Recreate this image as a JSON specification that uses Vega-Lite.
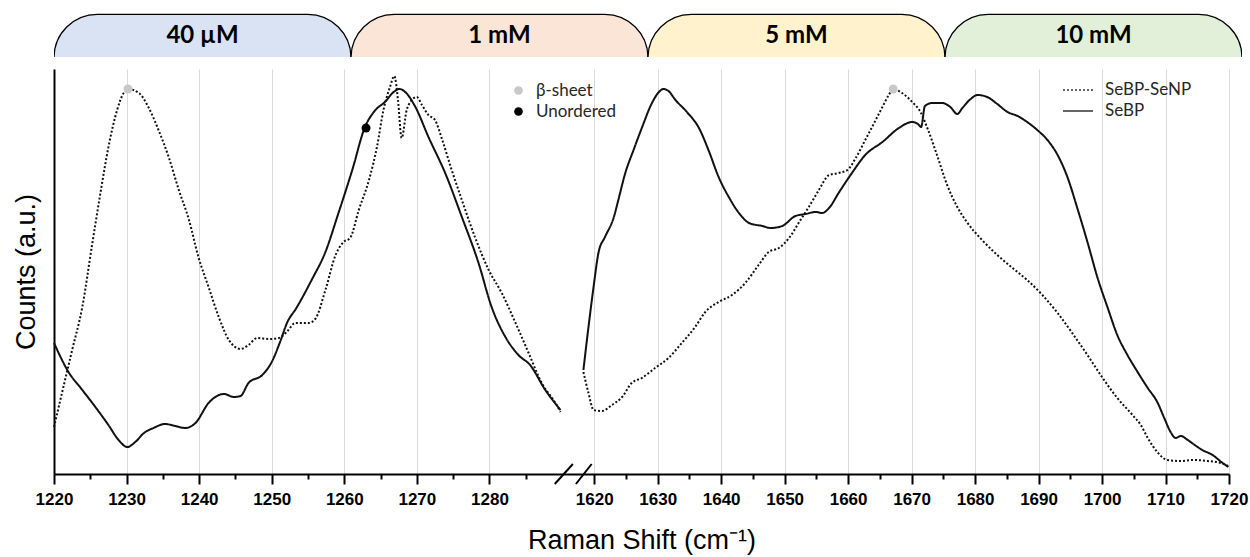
{
  "$schema": "https://vega.github.io/schema/vega-lite/v6.json",
  "padding": {"left": 12, "top": 13, "right": 5, "bottom": 2},
  "background": "#ffffff",
  "config": {"view": {"stroke": null}},
  "spacing": 12,
  "resolve": {"scale": {"color": "independent", "strokeDash": "independent"}, "legend": {"color": "independent", "strokeDash": "independent"}},
  "datasets": {
    "tabs": [
      {"tab": "40 µM", "i0": 0, "i1": 1, "mid": 0.5},
      {"tab": "1 mM", "i0": 1, "i1": 2, "mid": 1.5},
      {"tab": "5 mM", "i0": 2, "i1": 3, "mid": 2.5},
      {"tab": "10 mM", "i0": 3, "i1": 4, "mid": 3.5}
    ],
    "spectra": [
      {"series": "SeBP", "seg": "SeBP-L", "u": 1220.0, "c": 131},
      {"series": "SeBP", "seg": "SeBP-L", "u": 1222.0, "c": 102},
      {"series": "SeBP", "seg": "SeBP-L", "u": 1223.9, "c": 84},
      {"series": "SeBP", "seg": "SeBP-L", "u": 1225.7, "c": 67},
      {"series": "SeBP", "seg": "SeBP-L", "u": 1227.5, "c": 49},
      {"series": "SeBP", "seg": "SeBP-L", "u": 1228.9, "c": 34},
      {"series": "SeBP", "seg": "SeBP-L", "u": 1230.1, "c": 27},
      {"series": "SeBP", "seg": "SeBP-L", "u": 1231.2, "c": 32},
      {"series": "SeBP", "seg": "SeBP-L", "u": 1232.4, "c": 41},
      {"series": "SeBP", "seg": "SeBP-L", "u": 1233.7, "c": 46},
      {"series": "SeBP", "seg": "SeBP-L", "u": 1235.3, "c": 50},
      {"series": "SeBP", "seg": "SeBP-L", "u": 1236.7, "c": 48},
      {"series": "SeBP", "seg": "SeBP-L", "u": 1238.1, "c": 46},
      {"series": "SeBP", "seg": "SeBP-L", "u": 1239.5, "c": 51},
      {"series": "SeBP", "seg": "SeBP-L", "u": 1241.3, "c": 71},
      {"series": "SeBP", "seg": "SeBP-L", "u": 1243.4, "c": 80},
      {"series": "SeBP", "seg": "SeBP-L", "u": 1244.8, "c": 77},
      {"series": "SeBP", "seg": "SeBP-L", "u": 1245.7, "c": 78},
      {"series": "SeBP", "seg": "SeBP-L", "u": 1246.8, "c": 91},
      {"series": "SeBP", "seg": "SeBP-L", "u": 1248.7, "c": 99},
      {"series": "SeBP", "seg": "SeBP-L", "u": 1250.0, "c": 112},
      {"series": "SeBP", "seg": "SeBP-L", "u": 1251.2, "c": 133},
      {"series": "SeBP", "seg": "SeBP-L", "u": 1252.1, "c": 151},
      {"series": "SeBP", "seg": "SeBP-L", "u": 1253.4, "c": 166},
      {"series": "SeBP", "seg": "SeBP-L", "u": 1255.5, "c": 194},
      {"series": "SeBP", "seg": "SeBP-L", "u": 1257.4, "c": 222},
      {"series": "SeBP", "seg": "SeBP-L", "u": 1259.2, "c": 261},
      {"series": "SeBP", "seg": "SeBP-L", "u": 1261.1, "c": 304},
      {"series": "SeBP", "seg": "SeBP-L", "u": 1262.8, "c": 346},
      {"series": "SeBP", "seg": "SeBP-L", "u": 1264.3, "c": 364},
      {"series": "SeBP", "seg": "SeBP-L", "u": 1265.6, "c": 372},
      {"series": "SeBP", "seg": "SeBP-L", "u": 1266.8, "c": 382},
      {"series": "SeBP", "seg": "SeBP-L", "u": 1267.6, "c": 385},
      {"series": "SeBP", "seg": "SeBP-L", "u": 1268.4, "c": 382},
      {"series": "SeBP", "seg": "SeBP-L", "u": 1269.8, "c": 367},
      {"series": "SeBP", "seg": "SeBP-L", "u": 1271.6, "c": 337},
      {"series": "SeBP", "seg": "SeBP-L", "u": 1273.9, "c": 301},
      {"series": "SeBP", "seg": "SeBP-L", "u": 1276.2, "c": 257},
      {"series": "SeBP", "seg": "SeBP-L", "u": 1278.5, "c": 211},
      {"series": "SeBP", "seg": "SeBP-L", "u": 1280.3, "c": 167},
      {"series": "SeBP", "seg": "SeBP-L", "u": 1282.2, "c": 137},
      {"series": "SeBP", "seg": "SeBP-L", "u": 1284.0, "c": 119},
      {"series": "SeBP", "seg": "SeBP-L", "u": 1285.6, "c": 109},
      {"series": "SeBP", "seg": "SeBP-L", "u": 1287.7, "c": 84},
      {"series": "SeBP", "seg": "SeBP-L", "u": 1289.8, "c": 64},
      {"series": "SeBP-SeNP", "seg": "NP-L", "u": 1220.0, "c": 47},
      {"series": "SeBP-SeNP", "seg": "NP-L", "u": 1221.1, "c": 81},
      {"series": "SeBP-SeNP", "seg": "NP-L", "u": 1222.5, "c": 124},
      {"series": "SeBP-SeNP", "seg": "NP-L", "u": 1223.9, "c": 167},
      {"series": "SeBP-SeNP", "seg": "NP-L", "u": 1225.2, "c": 227},
      {"series": "SeBP-SeNP", "seg": "NP-L", "u": 1226.4, "c": 281},
      {"series": "SeBP-SeNP", "seg": "NP-L", "u": 1227.5, "c": 327},
      {"series": "SeBP-SeNP", "seg": "NP-L", "u": 1228.7, "c": 364},
      {"series": "SeBP-SeNP", "seg": "NP-L", "u": 1229.6, "c": 381},
      {"series": "SeBP-SeNP", "seg": "NP-L", "u": 1230.2, "c": 385},
      {"series": "SeBP-SeNP", "seg": "NP-L", "u": 1231.7, "c": 381},
      {"series": "SeBP-SeNP", "seg": "NP-L", "u": 1233.0, "c": 367},
      {"series": "SeBP-SeNP", "seg": "NP-L", "u": 1234.4, "c": 344},
      {"series": "SeBP-SeNP", "seg": "NP-L", "u": 1235.8, "c": 317},
      {"series": "SeBP-SeNP", "seg": "NP-L", "u": 1237.2, "c": 284},
      {"series": "SeBP-SeNP", "seg": "NP-L", "u": 1238.6, "c": 254},
      {"series": "SeBP-SeNP", "seg": "NP-L", "u": 1239.9, "c": 217},
      {"series": "SeBP-SeNP", "seg": "NP-L", "u": 1241.3, "c": 187},
      {"series": "SeBP-SeNP", "seg": "NP-L", "u": 1242.7, "c": 157},
      {"series": "SeBP-SeNP", "seg": "NP-L", "u": 1244.1, "c": 134},
      {"series": "SeBP-SeNP", "seg": "NP-L", "u": 1245.7, "c": 125},
      {"series": "SeBP-SeNP", "seg": "NP-L", "u": 1246.8, "c": 129},
      {"series": "SeBP-SeNP", "seg": "NP-L", "u": 1248.0, "c": 136},
      {"series": "SeBP-SeNP", "seg": "NP-L", "u": 1249.6, "c": 135},
      {"series": "SeBP-SeNP", "seg": "NP-L", "u": 1251.0, "c": 136},
      {"series": "SeBP-SeNP", "seg": "NP-L", "u": 1252.3, "c": 144},
      {"series": "SeBP-SeNP", "seg": "NP-L", "u": 1253.2, "c": 151},
      {"series": "SeBP-SeNP", "seg": "NP-L", "u": 1255.1, "c": 151},
      {"series": "SeBP-SeNP", "seg": "NP-L", "u": 1256.0, "c": 155},
      {"series": "SeBP-SeNP", "seg": "NP-L", "u": 1257.4, "c": 184},
      {"series": "SeBP-SeNP", "seg": "NP-L", "u": 1258.8, "c": 219},
      {"series": "SeBP-SeNP", "seg": "NP-L", "u": 1259.9, "c": 232},
      {"series": "SeBP-SeNP", "seg": "NP-L", "u": 1260.8, "c": 236},
      {"series": "SeBP-SeNP", "seg": "NP-L", "u": 1262.0, "c": 264},
      {"series": "SeBP-SeNP", "seg": "NP-L", "u": 1263.4, "c": 294},
      {"series": "SeBP-SeNP", "seg": "NP-L", "u": 1264.5, "c": 327},
      {"series": "SeBP-SeNP", "seg": "NP-L", "u": 1265.4, "c": 364},
      {"series": "SeBP-SeNP", "seg": "NP-L", "u": 1266.3, "c": 387},
      {"series": "SeBP-SeNP", "seg": "NP-L", "u": 1266.9, "c": 398},
      {"series": "SeBP-SeNP", "seg": "NP-L", "u": 1267.4, "c": 374},
      {"series": "SeBP-SeNP", "seg": "NP-L", "u": 1267.9, "c": 336},
      {"series": "SeBP-SeNP", "seg": "NP-L", "u": 1268.6, "c": 364},
      {"series": "SeBP-SeNP", "seg": "NP-L", "u": 1269.1, "c": 372},
      {"series": "SeBP-SeNP", "seg": "NP-L", "u": 1270.0, "c": 377},
      {"series": "SeBP-SeNP", "seg": "NP-L", "u": 1270.7, "c": 369},
      {"series": "SeBP-SeNP", "seg": "NP-L", "u": 1271.6, "c": 359},
      {"series": "SeBP-SeNP", "seg": "NP-L", "u": 1272.5, "c": 354},
      {"series": "SeBP-SeNP", "seg": "NP-L", "u": 1273.5, "c": 334},
      {"series": "SeBP-SeNP", "seg": "NP-L", "u": 1274.8, "c": 304},
      {"series": "SeBP-SeNP", "seg": "NP-L", "u": 1276.2, "c": 274},
      {"series": "SeBP-SeNP", "seg": "NP-L", "u": 1278.0, "c": 237},
      {"series": "SeBP-SeNP", "seg": "NP-L", "u": 1279.9, "c": 204},
      {"series": "SeBP-SeNP", "seg": "NP-L", "u": 1281.7, "c": 181},
      {"series": "SeBP-SeNP", "seg": "NP-L", "u": 1283.6, "c": 151},
      {"series": "SeBP-SeNP", "seg": "NP-L", "u": 1285.4, "c": 121},
      {"series": "SeBP-SeNP", "seg": "NP-L", "u": 1287.2, "c": 91},
      {"series": "SeBP-SeNP", "seg": "NP-L", "u": 1289.1, "c": 71},
      {"series": "SeBP-SeNP", "seg": "NP-L", "u": 1289.8, "c": 62},
      {"series": "SeBP", "seg": "SeBP-R", "u": 1618.3, "c": 104},
      {"series": "SeBP", "seg": "SeBP-R", "u": 1619.1, "c": 147},
      {"series": "SeBP", "seg": "SeBP-R", "u": 1619.9, "c": 187},
      {"series": "SeBP", "seg": "SeBP-R", "u": 1620.7, "c": 222},
      {"series": "SeBP", "seg": "SeBP-R", "u": 1621.7, "c": 237},
      {"series": "SeBP", "seg": "SeBP-R", "u": 1623.1, "c": 257},
      {"series": "SeBP", "seg": "SeBP-R", "u": 1623.8, "c": 274},
      {"series": "SeBP", "seg": "SeBP-R", "u": 1624.9, "c": 301},
      {"series": "SeBP", "seg": "SeBP-R", "u": 1626.2, "c": 324},
      {"series": "SeBP", "seg": "SeBP-R", "u": 1627.5, "c": 346},
      {"series": "SeBP", "seg": "SeBP-R", "u": 1629.1, "c": 371},
      {"series": "SeBP", "seg": "SeBP-R", "u": 1630.2, "c": 382},
      {"series": "SeBP", "seg": "SeBP-R", "u": 1630.9, "c": 385},
      {"series": "SeBP", "seg": "SeBP-R", "u": 1631.7, "c": 383},
      {"series": "SeBP", "seg": "SeBP-R", "u": 1632.8, "c": 374},
      {"series": "SeBP", "seg": "SeBP-R", "u": 1634.6, "c": 362},
      {"series": "SeBP", "seg": "SeBP-R", "u": 1636.5, "c": 346},
      {"series": "SeBP", "seg": "SeBP-R", "u": 1638.0, "c": 324},
      {"series": "SeBP", "seg": "SeBP-R", "u": 1639.6, "c": 297},
      {"series": "SeBP", "seg": "SeBP-R", "u": 1641.2, "c": 277},
      {"series": "SeBP", "seg": "SeBP-R", "u": 1642.8, "c": 261},
      {"series": "SeBP", "seg": "SeBP-R", "u": 1644.4, "c": 251},
      {"series": "SeBP", "seg": "SeBP-R", "u": 1646.5, "c": 248},
      {"series": "SeBP", "seg": "SeBP-R", "u": 1647.8, "c": 246},
      {"series": "SeBP", "seg": "SeBP-R", "u": 1649.6, "c": 248},
      {"series": "SeBP", "seg": "SeBP-R", "u": 1651.7, "c": 258},
      {"series": "SeBP", "seg": "SeBP-R", "u": 1653.3, "c": 260},
      {"series": "SeBP", "seg": "SeBP-R", "u": 1654.9, "c": 262},
      {"series": "SeBP", "seg": "SeBP-R", "u": 1655.9, "c": 261},
      {"series": "SeBP", "seg": "SeBP-R", "u": 1657.0, "c": 266},
      {"series": "SeBP", "seg": "SeBP-R", "u": 1658.5, "c": 281},
      {"series": "SeBP", "seg": "SeBP-R", "u": 1660.6, "c": 301},
      {"series": "SeBP", "seg": "SeBP-R", "u": 1662.7, "c": 319},
      {"series": "SeBP", "seg": "SeBP-R", "u": 1665.4, "c": 332},
      {"series": "SeBP", "seg": "SeBP-R", "u": 1668.0, "c": 346},
      {"series": "SeBP", "seg": "SeBP-R", "u": 1670.1, "c": 352},
      {"series": "SeBP", "seg": "SeBP-R", "u": 1671.0, "c": 350},
      {"series": "SeBP", "seg": "SeBP-R", "u": 1671.5, "c": 347},
      {"series": "SeBP", "seg": "SeBP-R", "u": 1672.1, "c": 368},
      {"series": "SeBP", "seg": "SeBP-R", "u": 1673.2, "c": 371},
      {"series": "SeBP", "seg": "SeBP-R", "u": 1674.8, "c": 371},
      {"series": "SeBP", "seg": "SeBP-R", "u": 1676.1, "c": 367},
      {"series": "SeBP", "seg": "SeBP-R", "u": 1677.2, "c": 360},
      {"series": "SeBP", "seg": "SeBP-R", "u": 1678.0, "c": 366},
      {"series": "SeBP", "seg": "SeBP-R", "u": 1679.3, "c": 375},
      {"series": "SeBP", "seg": "SeBP-R", "u": 1680.4, "c": 379},
      {"series": "SeBP", "seg": "SeBP-R", "u": 1681.9, "c": 377},
      {"series": "SeBP", "seg": "SeBP-R", "u": 1683.5, "c": 370},
      {"series": "SeBP", "seg": "SeBP-R", "u": 1685.1, "c": 362},
      {"series": "SeBP", "seg": "SeBP-R", "u": 1686.7, "c": 358},
      {"series": "SeBP", "seg": "SeBP-R", "u": 1688.2, "c": 352},
      {"series": "SeBP", "seg": "SeBP-R", "u": 1689.8, "c": 344},
      {"series": "SeBP", "seg": "SeBP-R", "u": 1691.4, "c": 334},
      {"series": "SeBP", "seg": "SeBP-R", "u": 1693.0, "c": 319},
      {"series": "SeBP", "seg": "SeBP-R", "u": 1694.6, "c": 296},
      {"series": "SeBP", "seg": "SeBP-R", "u": 1696.1, "c": 266},
      {"series": "SeBP", "seg": "SeBP-R", "u": 1697.7, "c": 232},
      {"series": "SeBP", "seg": "SeBP-R", "u": 1699.3, "c": 196},
      {"series": "SeBP", "seg": "SeBP-R", "u": 1700.9, "c": 166},
      {"series": "SeBP", "seg": "SeBP-R", "u": 1702.4, "c": 139},
      {"series": "SeBP", "seg": "SeBP-R", "u": 1704.0, "c": 119},
      {"series": "SeBP", "seg": "SeBP-R", "u": 1705.6, "c": 102},
      {"series": "SeBP", "seg": "SeBP-R", "u": 1707.2, "c": 86},
      {"series": "SeBP", "seg": "SeBP-R", "u": 1708.7, "c": 72},
      {"series": "SeBP", "seg": "SeBP-R", "u": 1709.8, "c": 56},
      {"series": "SeBP", "seg": "SeBP-R", "u": 1710.8, "c": 42},
      {"series": "SeBP", "seg": "SeBP-R", "u": 1711.6, "c": 36},
      {"series": "SeBP", "seg": "SeBP-R", "u": 1712.4, "c": 38},
      {"series": "SeBP", "seg": "SeBP-R", "u": 1713.5, "c": 34},
      {"series": "SeBP", "seg": "SeBP-R", "u": 1714.6, "c": 29},
      {"series": "SeBP", "seg": "SeBP-R", "u": 1715.8, "c": 24},
      {"series": "SeBP", "seg": "SeBP-R", "u": 1717.4, "c": 19},
      {"series": "SeBP", "seg": "SeBP-R", "u": 1719.0, "c": 11},
      {"series": "SeBP", "seg": "SeBP-R", "u": 1719.9, "c": 7},
      {"series": "SeBP-SeNP", "seg": "NP-R", "u": 1618.3, "c": 102},
      {"series": "SeBP-SeNP", "seg": "NP-R", "u": 1619.1, "c": 81},
      {"series": "SeBP-SeNP", "seg": "NP-R", "u": 1619.9, "c": 64},
      {"series": "SeBP-SeNP", "seg": "NP-R", "u": 1621.2, "c": 63},
      {"series": "SeBP-SeNP", "seg": "NP-R", "u": 1622.8, "c": 69},
      {"series": "SeBP-SeNP", "seg": "NP-R", "u": 1624.4, "c": 77},
      {"series": "SeBP-SeNP", "seg": "NP-R", "u": 1625.9, "c": 91},
      {"series": "SeBP-SeNP", "seg": "NP-R", "u": 1627.5, "c": 96},
      {"series": "SeBP-SeNP", "seg": "NP-R", "u": 1629.6, "c": 106},
      {"series": "SeBP-SeNP", "seg": "NP-R", "u": 1631.7, "c": 116},
      {"series": "SeBP-SeNP", "seg": "NP-R", "u": 1633.8, "c": 131},
      {"series": "SeBP-SeNP", "seg": "NP-R", "u": 1635.9, "c": 147},
      {"series": "SeBP-SeNP", "seg": "NP-R", "u": 1637.5, "c": 162},
      {"series": "SeBP-SeNP", "seg": "NP-R", "u": 1639.6, "c": 172},
      {"series": "SeBP-SeNP", "seg": "NP-R", "u": 1641.7, "c": 179},
      {"series": "SeBP-SeNP", "seg": "NP-R", "u": 1643.8, "c": 191},
      {"series": "SeBP-SeNP", "seg": "NP-R", "u": 1645.9, "c": 209},
      {"series": "SeBP-SeNP", "seg": "NP-R", "u": 1647.5, "c": 222},
      {"series": "SeBP-SeNP", "seg": "NP-R", "u": 1649.1, "c": 226},
      {"series": "SeBP-SeNP", "seg": "NP-R", "u": 1650.7, "c": 236},
      {"series": "SeBP-SeNP", "seg": "NP-R", "u": 1652.2, "c": 251},
      {"series": "SeBP-SeNP", "seg": "NP-R", "u": 1653.8, "c": 267},
      {"series": "SeBP-SeNP", "seg": "NP-R", "u": 1655.4, "c": 284},
      {"series": "SeBP-SeNP", "seg": "NP-R", "u": 1657.0, "c": 299},
      {"series": "SeBP-SeNP", "seg": "NP-R", "u": 1658.5, "c": 301},
      {"series": "SeBP-SeNP", "seg": "NP-R", "u": 1659.9, "c": 304},
      {"series": "SeBP-SeNP", "seg": "NP-R", "u": 1661.2, "c": 316},
      {"series": "SeBP-SeNP", "seg": "NP-R", "u": 1662.7, "c": 334},
      {"series": "SeBP-SeNP", "seg": "NP-R", "u": 1664.1, "c": 351},
      {"series": "SeBP-SeNP", "seg": "NP-R", "u": 1665.4, "c": 367},
      {"series": "SeBP-SeNP", "seg": "NP-R", "u": 1666.4, "c": 379},
      {"series": "SeBP-SeNP", "seg": "NP-R", "u": 1667.1, "c": 385},
      {"series": "SeBP-SeNP", "seg": "NP-R", "u": 1668.5, "c": 381},
      {"series": "SeBP-SeNP", "seg": "NP-R", "u": 1670.1, "c": 372},
      {"series": "SeBP-SeNP", "seg": "NP-R", "u": 1671.4, "c": 362},
      {"series": "SeBP-SeNP", "seg": "NP-R", "u": 1672.6, "c": 344},
      {"series": "SeBP-SeNP", "seg": "NP-R", "u": 1674.0, "c": 319},
      {"series": "SeBP-SeNP", "seg": "NP-R", "u": 1675.6, "c": 289},
      {"series": "SeBP-SeNP", "seg": "NP-R", "u": 1677.2, "c": 267},
      {"series": "SeBP-SeNP", "seg": "NP-R", "u": 1678.7, "c": 252},
      {"series": "SeBP-SeNP", "seg": "NP-R", "u": 1681.1, "c": 234},
      {"series": "SeBP-SeNP", "seg": "NP-R", "u": 1683.5, "c": 219},
      {"series": "SeBP-SeNP", "seg": "NP-R", "u": 1685.9, "c": 206},
      {"series": "SeBP-SeNP", "seg": "NP-R", "u": 1688.2, "c": 194},
      {"series": "SeBP-SeNP", "seg": "NP-R", "u": 1690.6, "c": 179},
      {"series": "SeBP-SeNP", "seg": "NP-R", "u": 1693.0, "c": 161},
      {"series": "SeBP-SeNP", "seg": "NP-R", "u": 1695.3, "c": 141},
      {"series": "SeBP-SeNP", "seg": "NP-R", "u": 1697.7, "c": 119},
      {"series": "SeBP-SeNP", "seg": "NP-R", "u": 1700.1, "c": 96},
      {"series": "SeBP-SeNP", "seg": "NP-R", "u": 1702.4, "c": 76},
      {"series": "SeBP-SeNP", "seg": "NP-R", "u": 1704.8, "c": 59},
      {"series": "SeBP-SeNP", "seg": "NP-R", "u": 1706.1, "c": 49},
      {"series": "SeBP-SeNP", "seg": "NP-R", "u": 1707.2, "c": 36},
      {"series": "SeBP-SeNP", "seg": "NP-R", "u": 1708.7, "c": 22},
      {"series": "SeBP-SeNP", "seg": "NP-R", "u": 1710.3, "c": 14},
      {"series": "SeBP-SeNP", "seg": "NP-R", "u": 1712.4, "c": 13},
      {"series": "SeBP-SeNP", "seg": "NP-R", "u": 1714.3, "c": 14},
      {"series": "SeBP-SeNP", "seg": "NP-R", "u": 1716.6, "c": 13},
      {"series": "SeBP-SeNP", "seg": "NP-R", "u": 1718.7, "c": 11},
      {"series": "SeBP-SeNP", "seg": "NP-R", "u": 1719.9, "c": 8}
    ],
    "markers": [
      {"type": "β-sheet", "u": 1230.2, "c": 385},
      {"type": "β-sheet", "u": 1667.1, "c": 385},
      {"type": "Unordered", "u": 1263.0, "c": 346}
    ],
    "breaks": [
      {"u": 1289.0, "c": -10, "u2": 1473, "c2": 10},
      {"u": 1524, "c": -10, "u2": 1619.6, "c2": 10}
    ]
  },
  "vconcat": [
    {
      "width": 1188,
      "height": 44,
      "data": {"name": "tabs"},
      "layer": [
        {
          "mark": {"type": "bar", "clip": true, "cornerRadiusTopLeft": 44, "cornerRadiusTopRight": 44, "stroke": "#000000", "strokeWidth": 1.3},
          "encoding": {
            "x": {"field": "i0", "type": "quantitative", "scale": {"domain": [0, 4], "nice": false, "zero": false}, "axis": null},
            "x2": {"field": "i1"},
            "y": {"datum": -1, "type": "quantitative", "scale": {"domain": [0, 1], "nice": false, "zero": false}, "axis": null},
            "y2": {"datum": 0.97},
            "color": {"field": "tab", "type": "nominal", "scale": {"domain": ["40 µM", "1 mM", "5 mM", "10 mM"], "range": ["#dae3f3", "#fbe5d6", "#fff2cc", "#e2f0d9"]}, "legend": null}
          }
        },
        {
          "mark": {"type": "text", "font": "Lato", "fontWeight": "bold", "fontSize": 24, "color": "#000000", "baseline": "middle", "align": "center"},
          "encoding": {
            "x": {"field": "mid", "type": "quantitative"},
            "y": {"datum": 0.48, "type": "quantitative"},
            "text": {"field": "tab"}
          }
        }
      ]
    },
    {
      "width": 1175,
      "height": 405,
      "encoding": {
        "x": {
          "field": "u",
          "type": "quantitative",
          "scale": {"type": "linear", "domain": [1220, 1290, 1618, 1720], "range": [0, 508, 527.5, 1175], "nice": false, "zero": false},
          "axis": {
            "values": [1220, 1225, 1230, 1235, 1240, 1245, 1250, 1255, 1260, 1265, 1270, 1275, 1280, 1285, 1620, 1625, 1630, 1635, 1640, 1645, 1650, 1655, 1660, 1665, 1670, 1675, 1680, 1685, 1690, 1695, 1700, 1705, 1710, 1715, 1720],
            "format": "d",
            "labelExpr": "datum.value % 10 === 0 ? datum.label : ''",
            "tickSize": {"condition": {"test": "datum.value % 10 !== 0", "value": 5}, "value": 10},
            "gridOpacity": {"condition": {"test": "datum.value % 10 !== 0", "value": 0}, "value": 1},
            "grid": true,
            "gridColor": "#d9d9d9",
            "gridWidth": 1,
            "domainColor": "#000000",
            "domainWidth": 2,
            "tickColor": "#000000",
            "tickWidth": 2,
            "labelFont": "Liberation Sans",
            "labelFontWeight": "bold",
            "labelFontSize": 17,
            "labelColor": "#000000",
            "labelPadding": 7,
            "labelOverlap": false,
            "labelFlush": false,
            "title": "Raman Shift (cm⁻¹)",
            "titleFont": "Liberation Sans",
            "titleFontWeight": "normal",
            "titleFontSize": 27,
            "titleColor": "#000000",
            "titlePadding": 20
          }
        },
        "y": {
          "field": "c",
          "type": "quantitative",
          "scale": {"domain": [0, 405], "nice": false, "zero": false},
          "axis": {
            "title": "Counts (a.u.)",
            "labels": false,
            "ticks": false,
            "grid": false,
            "domainColor": "#000000",
            "domainWidth": 2,
            "titleFont": "Liberation Sans",
            "titleFontWeight": "normal",
            "titleFontSize": 27,
            "titleColor": "#000000",
            "titlePadding": 14
          }
        }
      },
      "layer": [
        {
          "data": {"name": "spectra"},
          "mark": {"type": "line", "color": "#111111", "strokeWidth": 2, "interpolate": "monotone"},
          "encoding": {
            "detail": {"field": "seg", "type": "nominal"},
            "strokeDash": {
              "field": "series",
              "type": "nominal",
              "scale": {"domain": ["SeBP-SeNP", "SeBP"], "range": [[2, 2], [1, 0]]},
              "legend": {
                "orient": "none",
                "legendX": 1008,
                "legendY": 12,
                "title": null,
                "padding": 0,
                "symbolType": "stroke",
                "symbolSize": 900,
                "symbolStrokeWidth": 1.4,
                "symbolStrokeColor": "#333333",
                "clipHeight": 18,
                "rowPadding": 3,
                "labelOffset": 11,
                "labelFont": "Lato",
                "labelFontSize": 17,
                "labelColor": "#262626"
              }
            }
          }
        },
        {
          "data": {"name": "markers"},
          "mark": {"type": "point", "filled": true, "size": 80, "opacity": 1},
          "encoding": {
            "color": {
              "field": "type",
              "type": "nominal",
              "scale": {"domain": ["β-sheet", "Unordered"], "range": ["#c8c8c8", "#000000"]},
              "legend": {
                "orient": "none",
                "legendX": 456,
                "legendY": 13,
                "title": null,
                "padding": 0,
                "symbolType": "circle",
                "symbolSize": 75,
                "rowPadding": 3,
                "labelOffset": 9,
                "labelFont": "Lato",
                "labelFontSize": 17,
                "labelColor": "#262626"
              }
            }
          }
        },
        {
          "data": {"name": "breaks"},
          "mark": {"type": "rule", "color": "#000000", "strokeWidth": 2},
          "encoding": {
            "x2": {"field": "u2"},
            "y2": {"field": "c2"}
          }
        }
      ]
    }
  ]
}
